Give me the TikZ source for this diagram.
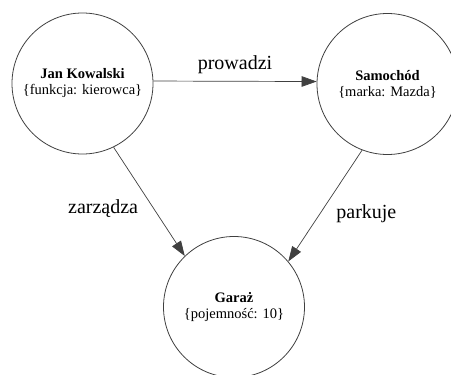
\documentclass[tikz,border=0pt]{standalone}
\usepackage{fontspec}
\setmainfont{Liberation Serif}
\usepackage{xcolor}
\usepackage{tikz}
\usetikzlibrary{arrows.meta}

\begin{document}
\begin{tikzpicture}[scale=1.0]
      \tikzset{obj/.style={circle,draw=black!75,line width=0.8pt,minimum size=141pt,inner sep=0pt,align=center,font=\fontsize{14.5}{16}\selectfont}}
      \tikzset{rel/.style={draw=black!75,line width=0.7pt,-{Triangle[length=15pt,width=10.5pt]}}}
      \tikzset{lbl/.style={font=\fontsize{20}{22}\selectfont,inner sep=3pt}}

      \useasboundingbox (-82.5pt,83.5pt) rectangle (368.5pt,-291.5pt);

      \node[obj] (jan) {\textbf{Jan Kowalski}\\\{funkcja: kierowca\}};
      \node[obj] (auto) [node distance=305pt,right of=jan,yshift=-0.5pt] {\textbf{Samochód}\\\{marka: Mazda\}};
      \node[obj] (garaz) [node distance=223.5pt,below of=jan,xshift=151.5pt] {\textbf{Garaż}\\\{pojemność: 10\}};

      \draw[rel] (jan.2) -- node[lbl,midway,above=4pt] {prowadzi} (auto.178);
      \draw[rel] (jan.-64) -- node[lbl,pos=0.56,left=12pt] {zarządza} (garaz.134);
      \draw[rel] (auto.-111) -- node[lbl,pos=0.57,right=13pt] {parkuje} (garaz.40);

    \end{tikzpicture}
\end{document}
